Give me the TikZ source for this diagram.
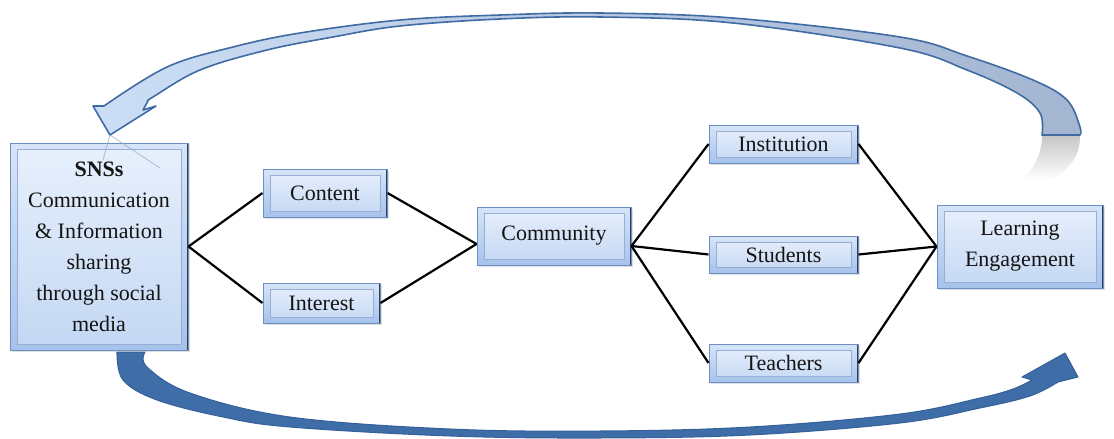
\documentclass[tikz,border=0pt]{standalone}
\usepackage{fontspec}
\setmainfont{Liberation Serif}
\usetikzlibrary{shadows}
\definecolor{boxtop}{HTML}{D6E5F8}
\definecolor{boxbot}{HTML}{A6C2EC}
\definecolor{innertop}{HTML}{E8F0FC}
\definecolor{innerbot}{HTML}{C3D7F3}
\definecolor{boxedge}{HTML}{6D8EC0}
\definecolor{inneredge}{HTML}{98AFD3}
\definecolor{darkedge}{HTML}{2E3F5A}
\definecolor{textc}{HTML}{141414}
\definecolor{arrowedge}{HTML}{416BA3}
\definecolor{topL}{HTML}{CCDEF5}
\definecolor{topR}{HTML}{A3B5D0}
\definecolor{botfill}{HTML}{3E6DA8}
\definecolor{botedge}{HTML}{35609A}
\tikzset{
  box/.style={draw=boxedge, line width=1pt, top color=boxtop, bottom color=boxbot,
    font=\fontsize{22}{31}\selectfont, text=textc, align=center, inner sep=0pt,
    drop shadow={opacity=0.25, shadow xshift=2pt, shadow yshift=-2pt},
    path picture={
      \draw[draw=inneredge, line width=1pt, top color=innertop, bottom color=innerbot]
        ([xshift=7pt,yshift=-6pt]path picture bounding box.north west) rectangle
        ([xshift=-7pt,yshift=6pt]path picture bounding box.south east);
      \draw[line width=3pt, darkedge] (path picture bounding box.north east) -- (path picture bounding box.south east);
    }},
  link/.style={line width=2.2pt, black},
  faint/.style={draw=arrowedge!60, line width=1pt, opacity=0.6}
}
\begin{document}
\begin{tikzpicture}[x=1pt,y=-1pt]
\useasboundingbox (0,0) rectangle (1114,439);
% top arrow
\filldraw[draw=arrowedge, line width=1.6pt, left color=topL, right color=topR, line join=round]
  (148,101) -- (143,110) -- (156,106) -- (110,135) -- (93,106) -- (104,106)
  -- plot[smooth, tension=0.6] coordinates {(104,106) (167,67) (233,47) (300,33) (400,20) (500,15) (600,13) (733,18) (900,37) (967,56) (1033,80) (1067,100) (1080,127) (1080,135)}
  -- (1042,135)
  -- plot[smooth, tension=0.6] coordinates {(1042,135) (1040,113) (1017,93) (967,70) (900,48) (733,23) (600,17) (500,19) (400,26) (333,37) (267,50) (200,70) (153,97) (148,101)} -- cycle;
% reflection of the tail
\shade[top color=black!22, bottom color=white]
  (1042,136) -- (1080,136) .. controls (1080,155) and (1072,166) .. (1052,180)
  -- (1022,180) .. controls (1036,166) and (1042,152) .. (1042,136);
% bottom arrow
\filldraw[draw=botedge, line width=1pt, fill=botfill, line join=round]
  (117,352) -- plot[smooth, tension=0.6] coordinates {(117,352) (123,380) (157,400) (223,417) (290,427) (450,436) (600,438) (750,435) (900,423) (980,408) (1030,396) (1058,382)}
  -- (1078,377) -- (1065,353) -- (1022,377) -- (1032,380)
  -- plot[smooth, tension=0.6] coordinates {(1032,380) (1013,389) (980,398) (900,414) (750,427) (600,431) (450,429) (290,417) (190,393) (147,367) (145,352)} -- cycle;
% boxes
\node[box, minimum width=178pt, minimum height=207pt] (snss) at (99,246.5)
  {{\bfseries SNSs}\\Communication\\\& Information\\sharing\\through social\\media};
\node[box, minimum width=124pt, minimum height=48pt] (content) at (325,193) {Content};
\node[box, minimum width=117pt, minimum height=40pt] (interest) at (321.5,303) {Interest};
\node[box, minimum width=154pt, minimum height=58pt] (community) at (554,236) {Community};
\node[box, minimum width=149pt, minimum height=38pt] (institution) at (783.5,144) {Institution};
\node[box, minimum width=149pt, minimum height=37pt] (students) at (783.5,254.5) {Students};
\node[box, minimum width=149pt, minimum height=38pt] (teachers) at (783.5,363) {Teachers};
\node[box, minimum width=166pt, minimum height=83pt] (learning) at (1020,246.5) {Learning\\Engagement};
% faint reflection lines of the arrow tip
\coordinate (tip) at (110,135);
\coordinate (f1) at (103,160);
\coordinate (f2) at (160,168);
\draw[faint] (tip) -- (f1);
\draw[faint] (tip) -- (f2);
% connectors
\draw[link] (snss.east) -- (content.west);
\draw[link] (snss.east) -- (interest.west);
\draw[link] (content.east) -- ([yshift=-8pt]community.west);
\draw[link] (interest.east) -- ([yshift=-8pt]community.west);
\draw[link] ([yshift=-10pt]community.east) -- (institution.west);
\draw[link] ([yshift=-10pt]community.east) -- (students.west);
\draw[link] ([yshift=-10pt]community.east) -- (teachers.west);
\draw[link] (institution.east) -- (learning.west);
\draw[link] (students.east) -- (learning.west);
\draw[link] (teachers.east) -- (learning.west);
\end{tikzpicture}
\end{document}
